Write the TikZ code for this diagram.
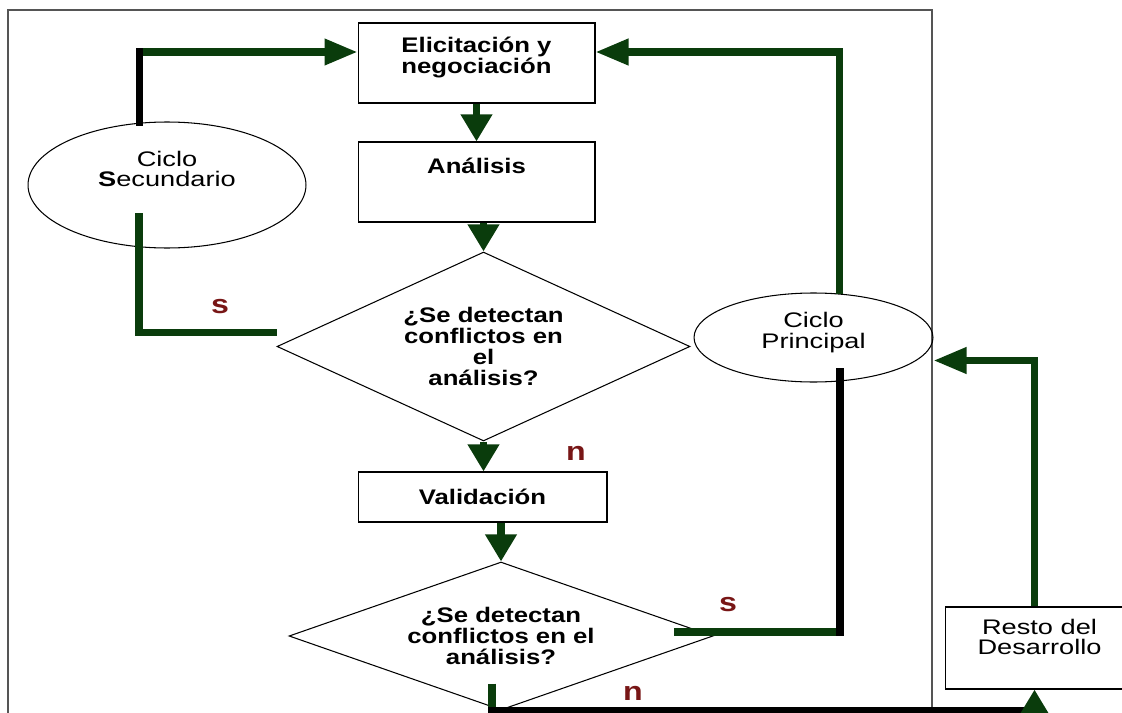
\documentclass[tikz,border=0pt]{standalone}
\usepackage{fontspec}
\setmainfont{Liberation Sans}[FakeStretch=1.22]
\newfontfamily\lightfont{Liberation Sans}[FakeStretch=1.29]
\usetikzlibrary{arrows.meta,shapes.geometric}
\definecolor{flowgreen}{RGB}{10,60,12}
\definecolor{answerred}{RGB}{120,22,22}
\definecolor{framegray}{RGB}{85,85,85}
\begin{document}
\begin{tikzpicture}[x=0.02cm, y=-0.02cm,
    stepbox/.style={draw, line width=0.6pt, inner sep=0pt},
    decision/.style={draw, diamond, line width=0.6pt, inner sep=0pt, align=center,
      font=\fontsize{12}{12}\selectfont\bfseries},
    cycle/.style={draw, ellipse, line width=0.6pt, inner sep=0pt},
    boxtext/.style={align=center, font=\fontsize{12}{11.5}\selectfont\bfseries},
    cycletext/.style={align=center, font=\lightfont\fontsize{12}{11.5}\selectfont},
    answer/.style={text=answerred, font=\fontsize{15}{18}\selectfont\bfseries},
    flow/.style={draw=flowgreen, line width=4pt},
    back/.style={draw=black, line width=4pt, line cap=rect},
    harrow/.style={-{Triangle[length=0.66cm,width=0.5cm]}, flowgreen},
    varrow/.style={-{Triangle[length=0.54cm,width=0.6cm]}, flowgreen}]

    \useasboundingbox (0,0) rectangle (1122,713);
    \clip (0,0) rectangle (1122,713);
    \draw[framegray, line width=1.1pt] (8,10) rectangle (932,740);

    \node[stepbox, minimum width=4.74cm, minimum height=1.6cm] (elic) at (476.5,63) {};
    \node[boxtext, below=5pt] at (elic.north) {Elicitación y\\negociación};
    \node[stepbox, minimum width=4.74cm, minimum height=1.6cm] (anal) at (476.5,182) {};
    \node[boxtext, below=6pt] at (anal.north) {Análisis};
    \node[decision, aspect=2.18, minimum width=8.26cm, minimum height=3.78cm] (conf1) at (483.5,346.5)
        {¿Se detectan\\conflictos en\\el\\análisis?};
    \node[stepbox, boxtext, minimum width=4.98cm, minimum height=1cm] (vali) at (482.5,497) {Validación};
    \node[decision, aspect=2.86, minimum width=8.48cm, minimum height=2.96cm] (conf2) at (501,636)
        {¿Se detectan\\conflictos en el\\análisis?};

    \node[cycle, minimum width=5.56cm, minimum height=2.52cm] (cicsec) at (167,185) {};
    \node[cycletext] at ([shift={(0,-16)}]cicsec.center) {Ciclo\\\textbf{S}ecundario};
    \node[cycle, minimum width=4.78cm, minimum height=1.78cm] (cicpri) at (813.5,337.5) {};
    \node[cycletext] at ([shift={(0,-5)}]cicpri.center) {Ciclo\\Principal};
    \node[stepbox, minimum width=3.58cm, minimum height=1.64cm] (resto) at (1034.5,648) {};
    \node[cycletext] at ([shift={(5,-11)}]resto.center) {Resto del\\Desarrollo};

    \coordinate (e-in) at ([shift={(0,-11)}]elic.west);
    \coordinate (e-out) at ([shift={(0,-11)}]elic.east);
    \coordinate (s-start) at ([shift={(-28,28)}]cicsec.center);
    \coordinate (p-start) at ([shift={(26.5,34.5)}]cicpri.center);
    \coordinate (c2-out) at ([shift={(-39,-4)}]conf2.east);
    \coordinate (c2-down) at ([shift={(-9,-27)}]conf2.south);

    \draw[flow,varrow] (elic.south) -- (anal.north);
    \draw[flow,varrow] (conf1.north |- anal.south) -- (conf1.north);
    \draw[flow,varrow] (conf1.south) -- (conf1.south |- vali.north);
    \draw[flow,varrow] (conf2.north |- vali.south) -- (conf2.north);

    \draw[flow,harrow] (cicsec.114 |- e-in) -- (e-in);
    \draw[back] (cicsec.114) -- (cicsec.114 |- e-in);
    \draw[flow] (s-start) |- ([shift={(0,-14)}]conf1.west);

    \draw[flow,harrow] (cicpri.59) |- (e-out);
    \draw[flow] (p-start |- c2-out) -- (c2-out);
    \draw[back] (p-start) -- (p-start |- c2-out);

    \draw[flow,harrow] (resto.north) |- ([shift={(0,23)}]cicpri.east);
    \draw[flow] (c2-down) -- (c2-down |- conf2.south);
    \draw[back] (c2-down |- conf2.south) -- (resto.south |- conf2.south);
    \draw[flow,varrow] (resto.south |- conf2.south) -- (resto.south);

    \node[answer] (s-sec) at (220,307) {s};
    \node[answer] (n-val) at (576,453) {n};
    \node[answer] (s-pri) at (728,605) {s};
    \node[answer] (n-rest) at (633,693) {n};
\end{tikzpicture}
\end{document}
